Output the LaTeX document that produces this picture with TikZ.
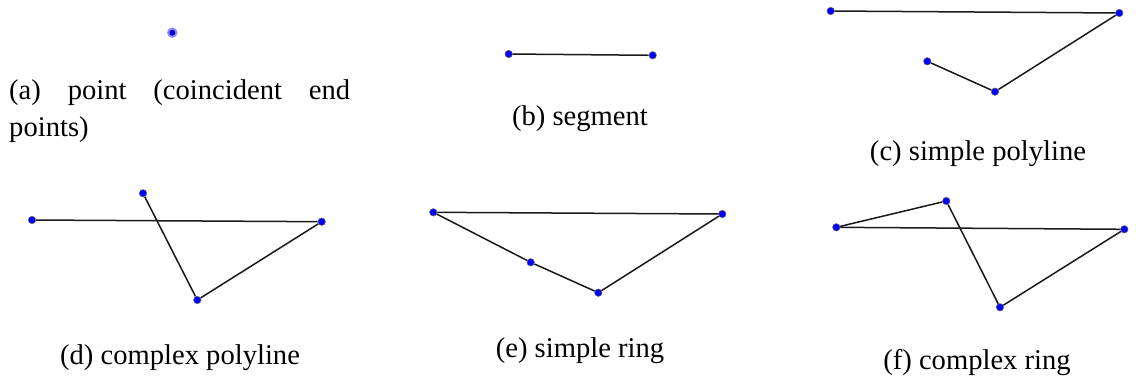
\documentclass[tikz,border=0pt]{standalone}
\usepackage{fontspec}
\setmainfont{Liberation Serif}
\begin{document}
\begin{tikzpicture}[x=1pt,y=-1pt,
  vtx/.style={circle, fill=blue, draw=black!60, line width=0.5pt, inner sep=0pt, minimum size=7.5pt},
  halo/.style={circle, fill=blue!45, inner sep=0pt, minimum size=10.5pt},
  edge/.style={line width=1.5pt, black!90},
  capt/.style={font=\fontsize{28.6}{37}\selectfont, inner sep=0pt, anchor=base}]
\useasboundingbox (0,0) rectangle (1136,381);
% (a) point
\node[halo] (a0) at (172.3,32.7) {};
\node[circle, fill=blue!80!black, inner sep=0pt, minimum size=6pt] (a1) at (a0) {};
\node[capt, anchor=base west, text width=341pt, align=left] (capa) at (9,99.5)
  {\hbox to 341pt{(a)\hfill point\hfill (coincident\hfill end}\\points)};
% (b) segment
\node[vtx] (b1) at (508.7,54) {};
\node[vtx] (b2) at (652.7,55.3) {};
\draw[edge] (b1) -- (b2);
\node[capt] (capb) at (580,125) {(b) segment};
% (c) simple polyline
\node[vtx] (c1) at (830.7,11) {};
\node[vtx] (c2) at (1119.3,13) {};
\node[vtx] (c3) at (995,91.7) {};
\node[vtx] (c4) at (927.3,61.3) {};
\draw[edge] (c1) -- (c2);
\draw[edge] (c2) -- (c3);
\draw[edge] (c3) -- (c4);
\node[capt] (capc) at (978,160) {(c) simple polyline};
% (d) complex polyline
\node[vtx] (d1) at (32,220) {};
\node[vtx] (d2) at (321.7,221.7) {};
\node[vtx] (d3) at (197.3,300) {};
\node[vtx] (d4) at (143,193.3) {};
\draw[edge] (d1) -- (d2);
\draw[edge] (d2) -- (d3);
\draw[edge] (d3) -- (d4);
\node[capt] (capd) at (180,364) {(d) complex polyline};
% (e) simple ring
\node[vtx] (e1) at (433.3,212.3) {};
\node[vtx] (e2) at (722.3,214) {};
\node[vtx] (e3) at (598.3,292.7) {};
\node[vtx] (e4) at (530.7,262.3) {};
\draw[edge] (e1) -- (e2);
\draw[edge] (e2) -- (e3);
\draw[edge] (e3) -- (e4);
\draw[edge] (e4) -- (e1);
\node[capt] (cape) at (580,357) {(e) simple ring};
% (f) complex ring
\node[vtx] (f1) at (836.3,227.3) {};
\node[vtx] (f2) at (1124.3,229.3) {};
\node[vtx] (f3) at (1000,307.3) {};
\node[vtx] (f4) at (946.3,201) {};
\draw[edge] (f1) -- (f2);
\draw[edge] (f2) -- (f3);
\draw[edge] (f3) -- (f4);
\draw[edge] (f4) -- (f1);
\node[capt] (capf) at (977,369) {(f) complex ring};
\end{tikzpicture}
\end{document}
